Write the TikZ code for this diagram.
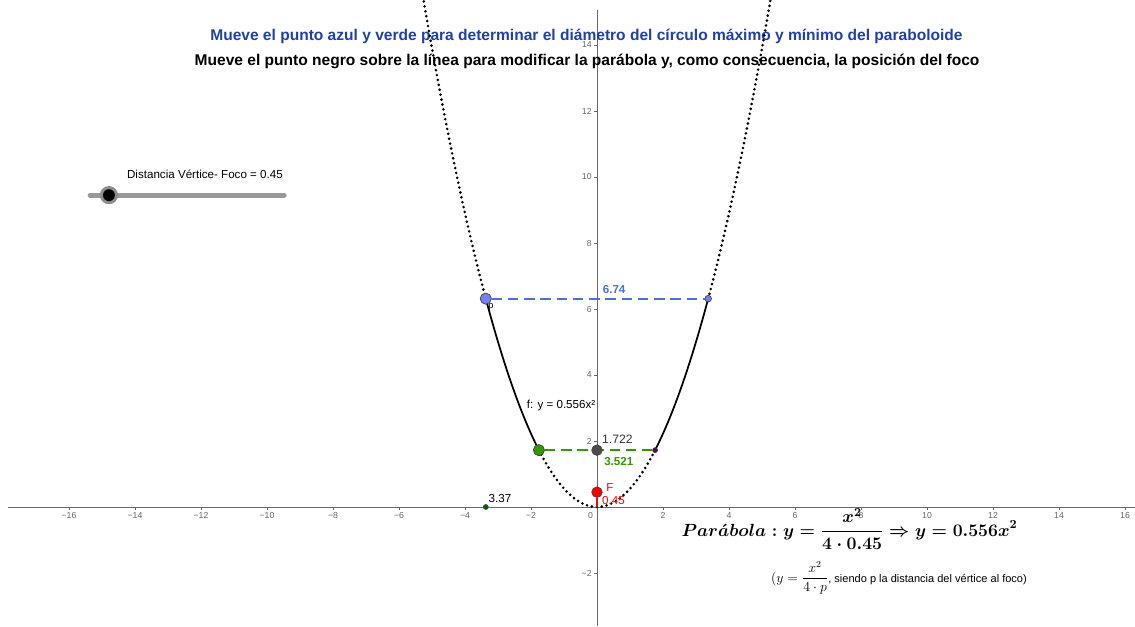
\documentclass[tikz,border=0pt]{standalone}
\usepackage{fix-cm}
\usepackage{amsmath}
\usepackage{fontspec}
\setmainfont{Liberation Sans}
\definecolor{titblue}{RGB}{31,64,167}
\definecolor{segblue}{RGB}{77,112,212}
\definecolor{ptblue}{RGB}{118,128,240}
\definecolor{seggreen}{RGB}{51,153,0}
\definecolor{axgray}{RGB}{105,105,105}
\def\parab#1{plot[domain=#1,samples=40,smooth] (\x,{0.556*\x*\x})}
\def\dcurve{\draw[dotcurve]}
\def\scurve{\draw[solidcurve]}
\newcommand\bigform{{\boldmath$\displaystyle Par\acute{a}bola \mathrel{:} y=\frac{x^2}{4\cdot 0.45}\Rightarrow y=0.556x^2$}}
\newcommand\smallform{$\displaystyle (y=\frac{x^2}{4\cdot p}$}

\begin{document}
\begin{tikzpicture}[
  ticklab/.style={font=\fontsize{7.5}{8}\selectfont,text=black!60,inner sep=1pt},
  dotcurve/.style={line width=2.5pt,line cap=round,dash pattern=on 0pt off 4.3pt},
  solidcurve/.style={line width=1.5pt},
  segdash/.style={line width=1.8pt,dash pattern=on 9pt off 5pt},
  pt/.style={circle,draw=black!75,line width=0.6pt,inner sep=0pt,minimum size=#1},
  pt/.default=0.34cm,
  lab/.style={font=\fontsize{10}{11}\selectfont,inner sep=1pt},
  tit/.style={font=\bfseries\fontsize{13.4}{15}\selectfont}]
\useasboundingbox (-18.091,-3.606) rectangle (16.303,15.364);
% axes
\draw[axgray,line width=0.6pt] (-17.85,0) -- (16.303,0);
\draw[axgray,line width=0.6pt] (0,-3.606) -- (0,15.06);
\foreach \x in {2,4,...,16} {
  \draw[axgray] (\x,0) -- (\x,-0.1);
  \draw[axgray] (-\x,0) -- (-\x,-0.1);
  \node[ticklab,below] (xp\x) at (\x,-0.12) {\x};
  \node[ticklab,below] (xm\x) at (-\x,-0.12) {−\x};
}
\foreach \y in {2,4,...,14} {
  \draw[axgray] (0,\y) -- (-0.1,\y);
  \node[ticklab,left] (yp\y) at (-0.12,\y) {\y};
}
\draw[axgray] (0,-2) -- (-0.1,-2);
\node[ticklab,left] (ym2) at (-0.12,-2) {−2};
\node[ticklab,below left] (o) at (-0.08,-0.12) {0};
% titles
\node[tit,text=titblue] (tit1) at (-0.32,14.27) {Mueve el punto azul y verde para determinar el diámetro del círculo máximo y mínimo del paraboloide};
\node[tit] (tit2) at (-0.30,13.49) {Mueve el punto negro sobre la línea para modificar la parábola y, como consecuencia, la posición del foco};
% slider
\coordinate (s0) at (-15.36,9.45);
\coordinate (s1) at (-9.48,9.45);
\draw[black!40,line width=4.3pt,line cap=round] (s0) -- (s1);
\node[circle,fill=black!45,inner sep=0pt,minimum size=0.55cm] (knobhalo) at (-14.79,9.45) {};
\node[circle,fill=black,inner sep=0pt,minimum size=0.36cm] (knob) at (knobhalo) {};
\node[lab] (slab) at (-11.88,10.09) {Distancia Vértice- Foco = 0.45};
% parabola
\dcurve \parab{-5.3:-3.37};
\scurve \parab{-3.37:-1.7605};
\dcurve \parab{-1.7605:1.7605};
\scurve \parab{1.7605:3.37};
\dcurve \parab{3.37:5.3};
\node[lab] (flab) at (-1.09,3.09) {f: y = 0.556x²};
% max circle
\node[pt,fill=ptblue] (B1) at (-3.37,6.314) {};
\node[pt=0.2cm,fill=ptblue] (B2) at (3.37,6.314) {};
\draw[segblue,segdash] (B1) -- (B2);
\node[lab,text=segblue,font=\bfseries\fontsize{10}{11}\selectfont] (blab) at (0.52,6.6) {6.74};
\node[font=\fontsize{8}{9}\selectfont,inner sep=0pt] (plab) at (-3.21,6.06) {p};
% min circle
\node[pt,fill=seggreen] (G1) at (-1.7605,1.723) {};
\node[pt=0.15cm,fill=violet!70!black] (G2) at (1.7605,1.723) {};
\draw[seggreen,segdash] (G1) -- (G2);
\node[pt=0.32cm,fill=black!70] (H) at (0,1.722) {};
\node[lab,font=\fontsize{10.5}{11}\selectfont,text=black!80] (hlab) at (0.62,2.06) {1.722};
\node[lab,text=seggreen,font=\bfseries\fontsize{10}{11}\selectfont] (glab) at (0.66,1.39) {3.521};
% focus
\coordinate (O) at (0,0);
\node[pt=0.32cm,fill=red] (F) at (0,0.45) {};
\draw[red,line width=1pt] (F) -- (O);
\node[lab,text=red] (Flab) at (0.39,0.6) {F};
\node[lab,text=red] (dlab) at (0.5,0.21) {0.45};
% half width
\node[pt=0.15cm,fill=green!40!black] (A) at (-3.37,0) {};
\node[lab] (alab) at (-2.94,0.27) {3.37};
% formulas
\node[font=\fontsize{15.2}{18}\selectfont] (parf) at (7.65,-0.667) {\bigform};
\node[font=\fontsize{12}{14}\selectfont] (parp) at (9.15,-2.15) {\smallform{\fontsize{9.5}{10}\selectfont, siendo p la distancia del vértice al foco)}};
\end{tikzpicture}
\end{document}
